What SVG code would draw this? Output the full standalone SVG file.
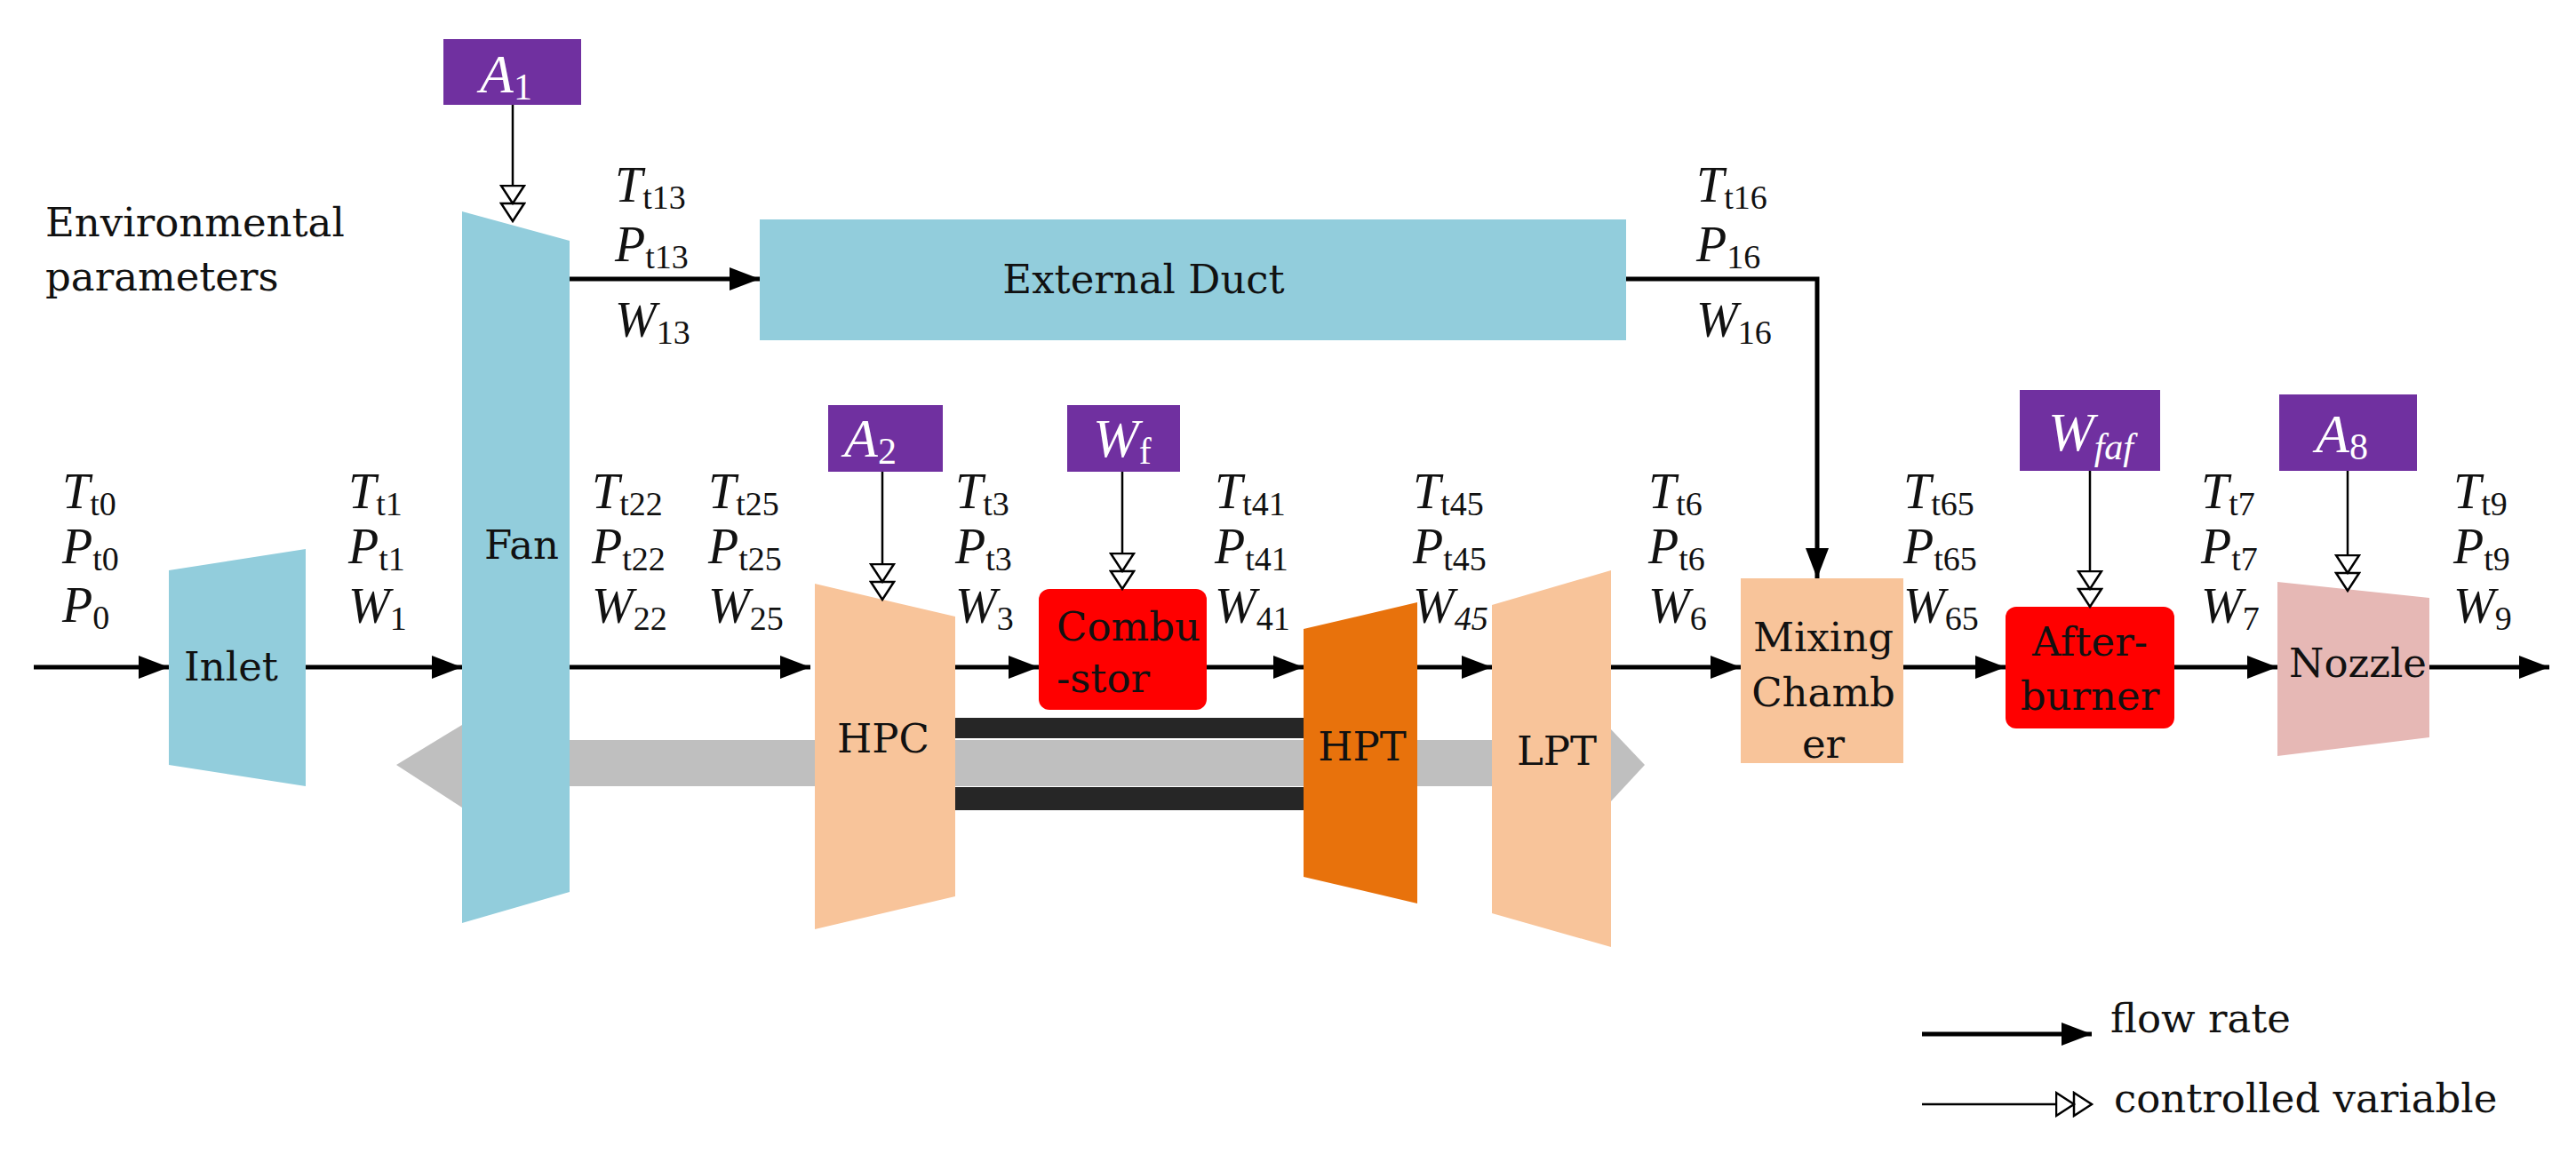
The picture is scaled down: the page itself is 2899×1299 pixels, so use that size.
<svg xmlns="http://www.w3.org/2000/svg" width="2899" height="1299" viewBox="0 0 2899 1299">
<style>
.t{font-family:"DejaVu Serif","Liberation Serif",serif;font-size:45px;fill:#111}
.v{font-family:"Liberation Serif",serif;font-style:italic;font-size:56px;fill:#111}
.s{font-family:"Liberation Serif",serif;font-size:38px;font-style:normal}
.bv{font-family:"Liberation Serif",serif;font-style:italic;font-size:62px;fill:#fff}
.bs{font-family:"Liberation Serif",serif;font-size:42px;font-style:normal}
.it{font-style:italic}
.flow{stroke:#000;stroke-width:5;fill:none;marker-end:url(#ah)}
.ctl{stroke:#000;stroke-width:2.5;fill:none;marker-end:url(#oh)}
.pur{fill:#7030A0}
</style>
<defs>
<marker id="ah" markerUnits="userSpaceOnUse" markerWidth="36" markerHeight="30" refX="34" refY="0" viewBox="0 -15 36 30" orient="auto"><path d="M0,-13 L34,0 L0,13 Z" fill="#000"/></marker>
<marker id="oh" markerUnits="userSpaceOnUse" markerWidth="44" markerHeight="30" refX="41" refY="0" viewBox="0 -15 44 30" orient="auto"><path d="M1,-13 L21,0 L1,13 Z M21,-13 L41,0 L21,13 Z" fill="#fff" stroke="#000" stroke-width="2.5"/></marker>
</defs>
<rect width="2899" height="1299" fill="#fff"/>

<g id="shaft">
<path d="M446,861 L520,816 L520,909 Z" fill="#BFBFBF"/>
<rect x="520" y="833" width="1293" height="52" fill="#BFBFBF"/>
<path d="M1813,821 L1851,861 L1813,902 Z" fill="#BFBFBF"/>
<rect x="1075" y="808" width="392" height="23" fill="#262626"/>
<rect x="1075" y="886" width="392" height="26" fill="#262626"/>
</g>

<g id="env"><text class="t" x="51" y="266">Environmental</text><text class="t" x="51" y="327">parameters</text></g>

<g id="inlet"><path d="M190,642 L344,618 L344,885 L190,861 Z" fill="#92CDDC"/><text class="t" x="207" y="766">Inlet</text></g>
<g id="fan"><path d="M520,238 L641,271 L641,1004 L520,1039 Z" fill="#92CDDC"/><text class="t" x="545" y="629">Fan</text></g>
<g id="duct"><rect x="855" y="247" width="975" height="136" fill="#92CDDC"/><text class="t" x="1287" y="330" text-anchor="middle">External Duct</text></g>
<g id="hpc"><path d="M917,657 L1075,694 L1075,1009 L917,1046 Z" fill="#F8C49A"/><text class="t" x="942" y="847">HPC</text></g>
<g id="combustor"><rect x="1169" y="663" width="189" height="136" rx="12" fill="#FF0000"/><text class="t" x="1189" y="721">Combu</text><text class="t" x="1189" y="779">-stor</text></g>
<g id="hpt"><path d="M1467,708 L1595,678 L1595,1017 L1467,987 Z" fill="#E8720C"/><text class="t" x="1533" y="856" text-anchor="middle">HPT</text></g>
<g id="lpt"><path d="M1679,681 L1813,642 L1813,1066 L1679,1028 Z" fill="#F8C49A"/><text class="t" x="1752" y="861" text-anchor="middle">LPT</text></g>
<g id="mixing"><rect x="1959" y="651" width="183" height="208" fill="#F8C49A"/><text class="t" x="2052" y="733" text-anchor="middle">Mixing</text><text class="t" x="2052" y="795" text-anchor="middle">Chamb</text><text class="t" x="2052" y="853" text-anchor="middle">er</text></g>
<g id="afterburner"><rect x="2257" y="683" width="190" height="137" rx="12" fill="#FF0000"/><text class="t" x="2352" y="738" text-anchor="middle">After-</text><text class="t" x="2352" y="799" text-anchor="middle">burner</text></g>
<g id="nozzle"><path d="M2563,655 L2734,673 L2734,830 L2563,851 Z" fill="#E6B8B5"/><text class="t" x="2576" y="762">Nozzle</text></g>

<g id="A1"><rect class="pur" x="499" y="44" width="155" height="74"/><text class="bv" x="540" y="104">A<tspan class="bs" dy="8">1</tspan></text></g>
<g id="A2"><rect class="pur" x="932" y="456" width="129" height="75"/><text class="bv" x="950" y="514">A<tspan class="bs" dy="8">2</tspan></text></g>
<g id="Wf"><rect class="pur" x="1201" y="456" width="127" height="75"/><text class="bv" x="1230" y="514">W<tspan class="bs" dy="8">f</tspan></text></g>
<g id="Wfaf"><rect class="pur" x="2273" y="439" width="158" height="91"/><text class="bv" x="2305" y="507">W<tspan class="bs it" dy="10">faf</tspan></text></g>
<g id="A8"><rect class="pur" x="2565" y="444" width="155" height="86"/><text class="bv" x="2606" y="509">A<tspan class="bs" dy="8">8</tspan></text></g>

<g id="connectors">
<path class="flow" d="M38,751 L190,751"/>
<path class="flow" d="M344,751 L520,751"/>
<path class="flow" d="M641,751 L912,751"/>
<path class="flow" d="M1075,751 L1169,751"/>
<path class="flow" d="M1358,751 L1467,751"/>
<path class="flow" d="M1595,751 L1679,751"/>
<path class="flow" d="M1813,751 L1959,751"/>
<path class="flow" d="M2142,751 L2257,751"/>
<path class="flow" d="M2447,751 L2563,751"/>
<path class="flow" d="M2734,751 L2869,751"/>
<path class="flow" d="M641,314 L855,314"/>
<path class="flow" d="M1830,314 L2045,314 L2045,651"/>
<path class="ctl" d="M577,118 L577,249"/>
<path class="ctl" d="M993,531 L993,675"/>
<path class="ctl" d="M1263,531 L1263,663"/>
<path class="ctl" d="M2352,530 L2352,683"/>
<path class="ctl" d="M2642,530 L2642,665"/>
</g>

<g id="labels">
<text class="v" x="692" y="227">T<tspan class="s" dy="8">t13</tspan></text>
<text class="v" x="692" y="294">P<tspan class="s" dy="8">t13</tspan></text>
<text class="v" x="692" y="379">W<tspan class="s" dy="8">13</tspan></text>
<text class="v" x="1909" y="227">T<tspan class="s" dy="8">t16</tspan></text>
<text class="v" x="1909" y="294">P<tspan class="s" dy="8">16</tspan></text>
<text class="v" x="1909" y="379">W<tspan class="s" dy="8">16</tspan></text>
<text class="v" x="70" y="572">T<tspan class="s" dy="8">t0</tspan></text>
<text class="v" x="70" y="634">P<tspan class="s" dy="8">t0</tspan></text>
<text class="v" x="70" y="700">P<tspan class="s" dy="8">0</tspan></text>
<text class="v" x="392" y="572">T<tspan class="s" dy="8">t1</tspan></text>
<text class="v" x="392" y="634">P<tspan class="s" dy="8">t1</tspan></text>
<text class="v" x="392" y="701">W<tspan class="s" dy="8">1</tspan></text>
<text class="v" x="666" y="572">T<tspan class="s" dy="8">t22</tspan></text>
<text class="v" x="666" y="634">P<tspan class="s" dy="8">t22</tspan></text>
<text class="v" x="666" y="701">W<tspan class="s" dy="8">22</tspan></text>
<text class="v" x="797" y="572">T<tspan class="s" dy="8">t25</tspan></text>
<text class="v" x="797" y="634">P<tspan class="s" dy="8">t25</tspan></text>
<text class="v" x="797" y="701">W<tspan class="s" dy="8">25</tspan></text>
<text class="v" x="1075" y="572">T<tspan class="s" dy="8">t3</tspan></text>
<text class="v" x="1075" y="634">P<tspan class="s" dy="8">t3</tspan></text>
<text class="v" x="1075" y="701">W<tspan class="s" dy="8">3</tspan></text>
<text class="v" x="1367" y="572">T<tspan class="s" dy="8">t41</tspan></text>
<text class="v" x="1367" y="634">P<tspan class="s" dy="8">t41</tspan></text>
<text class="v" x="1367" y="701">W<tspan class="s" dy="8">41</tspan></text>
<text class="v" x="1590" y="572">T<tspan class="s" dy="8">t45</tspan></text>
<text class="v" x="1590" y="634">P<tspan class="s" dy="8">t45</tspan></text>
<text class="v" x="1590" y="701">W<tspan class="s it" dy="8">45</tspan></text>
<text class="v" x="1855" y="572">T<tspan class="s" dy="8">t6</tspan></text>
<text class="v" x="1855" y="634">P<tspan class="s" dy="8">t6</tspan></text>
<text class="v" x="1855" y="701">W<tspan class="s" dy="8">6</tspan></text>
<text class="v" x="2142" y="572">T<tspan class="s" dy="8">t65</tspan></text>
<text class="v" x="2142" y="634">P<tspan class="s" dy="8">t65</tspan></text>
<text class="v" x="2142" y="701">W<tspan class="s" dy="8">65</tspan></text>
<text class="v" x="2477" y="572">T<tspan class="s" dy="8">t7</tspan></text>
<text class="v" x="2477" y="634">P<tspan class="s" dy="8">t7</tspan></text>
<text class="v" x="2477" y="701">W<tspan class="s" dy="8">7</tspan></text>
<text class="v" x="2761" y="572">T<tspan class="s" dy="8">t9</tspan></text>
<text class="v" x="2761" y="634">P<tspan class="s" dy="8">t9</tspan></text>
<text class="v" x="2761" y="701">W<tspan class="s" dy="8">9</tspan></text>
</g>

<g id="legend">
<path class="flow" d="M2163,1164 L2354,1164"/>
<text class="t" x="2375" y="1162">flow rate</text>
<path class="ctl" d="M2163,1243 L2354,1243"/>
<text class="t" x="2379" y="1252">controlled variable</text>
</g>
</svg>
